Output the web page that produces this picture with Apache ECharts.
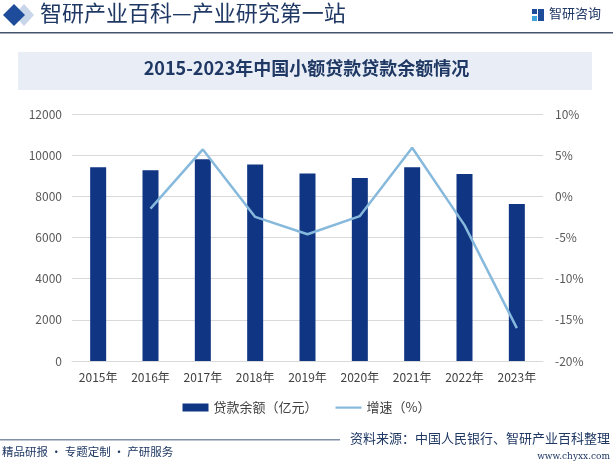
<!DOCTYPE html>
<html>
<head>
<meta charset="utf-8">
<script src="https://cdn.jsdelivr.net/npm/echarts@6/dist/echarts.min.js"></script>
<style>
html,body{margin:0;padding:0;background:#fff;}
#chart{width:613px;height:468px;}
</style>
</head>
<body>
<div id="chart"></div>
<script>
var categories = ['2015年','2016年','2017年','2018年','2019年','2020年','2021年','2022年','2023年'];
var loanBalance = [9411.51, 9272.80, 9799.49, 9550.44, 9108.78, 8887.61, 9415.00, 9086.00, 7629.00];
var growthRate = [null, -1.5, 5.7, -2.5, -4.6, -2.4, 5.9, -3.5, -16.0];
var seriesNames = ['贷款余额（亿元）', '增速（%）'];
var chartTitle = '2015-2023年中国小额贷款贷款余额情况';
var headerText = '智研产业百科—产业研究第一站';
var sourceText = '资料来源：中国人民银行、智研产业百科整理';
var footerLeft = '精品研报 · 专题定制 · 产研服务';
var siteText = 'www.chyxx.com';
var brandText = '智研咨询';

var font = '"Noto Sans CJK SC", "Noto Sans", sans-serif';
var chart = echarts.init(document.getElementById('chart'));
chart.setOption({
  backgroundColor: '#ffffff',
  textStyle: { fontFamily: font },
  animation: false,
  graphic: [
    { type: 'polygon', shape: { points: [[24,4],[34,15],[24,26],[14,15]] }, style: { fill: '#c9d6ea' } },
    { type: 'polygon', shape: { points: [[14,4],[25,15],[14,26],[3,15]] }, style: { fill: '#1e4c9a' } },
    { type: 'text', left: 40, top: 2, style: { text: headerText, fill: '#1f3864', font: '22px ' + font } },
    { type: 'rect', shape: { x: 532, y: 9, width: 5, height: 5 }, style: { fill: '#1e4c9a' } },
    { type: 'rect', shape: { x: 538, y: 9, width: 6, height: 12 }, style: { fill: '#1e4c9a' } },
    { type: 'rect', shape: { x: 532, y: 16, width: 5, height: 5 }, style: { fill: '#3fa2dc' } },
    { type: 'text', left: 549, top: 7, style: { text: brandText, fill: '#1f3864', font: '13px ' + font } },
    { type: 'rect', shape: { x: 0, y: 32, width: 613, height: 1.5 }, style: { fill: '#44546a' } },
    { type: 'rect', shape: { x: 18, y: 52, width: 574, height: 38 }, style: { fill: '#e9eef6' } },
    { type: 'text', left: 'center', top: 59, style: { text: chartTitle, fill: '#1f3864', font: 'bold 18px ' + font } },
    { type: 'rect', shape: { x: 0, y: 439, width: 340, height: 1.5 }, style: { fill: '#8090a8' } },
    { type: 'text', left: 2, top: 446, style: { text: footerLeft, fill: '#1f3864', font: '11.5px ' + font } },
    { type: 'text', right: 3, top: 432, style: { text: sourceText, fill: '#1f3864', font: '13px ' + font } },
    { type: 'text', right: 3, top: 452, style: { text: siteText, fill: '#1f3864', font: '9px "DejaVu Serif", serif' } }
  ],
  legend: {
    top: 396,
    left: 'center',
    itemGap: 18,
    itemWidth: 26,
    itemHeight: 8,
    textStyle: { color: '#404040', fontSize: 13 },
    data: [
      { name: seriesNames[0], icon: 'rect' },
      { name: seriesNames[1], icon: 'path://M0,0 L0,0 M0,3 L26,3 L26,5.2 L0,5.2 Z M0,8 L0,8' }
    ]
  },
  grid: { left: 72, right: 70, top: 114, bottom: 107 },
  xAxis: {
    type: 'category',
    data: categories,
    axisLine: { show: true, lineStyle: { color: '#d9d9d9' } },
    axisTick: { show: false },
    axisLabel: { color: '#404040', fontSize: 12, margin: 10 }
  },
  yAxis: [
    {
      type: 'value', min: 0, max: 12000, interval: 2000,
      axisLine: { show: false }, axisTick: { show: false },
      axisLabel: { color: '#595959', fontSize: 12, margin: 10, formatter: function (v) { return String(v); } },
      splitLine: { lineStyle: { color: '#d9d9d9' } }
    },
    {
      type: 'value', min: -20, max: 10, interval: 5,
      axisLine: { show: false }, axisTick: { show: false },
      axisLabel: { color: '#595959', fontSize: 12, margin: 12, formatter: '{value}%' },
      splitLine: { show: false }
    }
  ],
  series: [
    {
      name: seriesNames[0], type: 'bar', data: loanBalance, barWidth: 16,
      itemStyle: { color: '#0f3583' }
    },
    {
      name: seriesNames[1], type: 'line', yAxisIndex: 1, data: growthRate,
      symbol: 'none', connectNulls: false,
      lineStyle: { color: '#86b9dc', width: 2.5 },
      itemStyle: { color: '#86b9dc' }
    }
  ]
});
</script>
</body>
</html>
